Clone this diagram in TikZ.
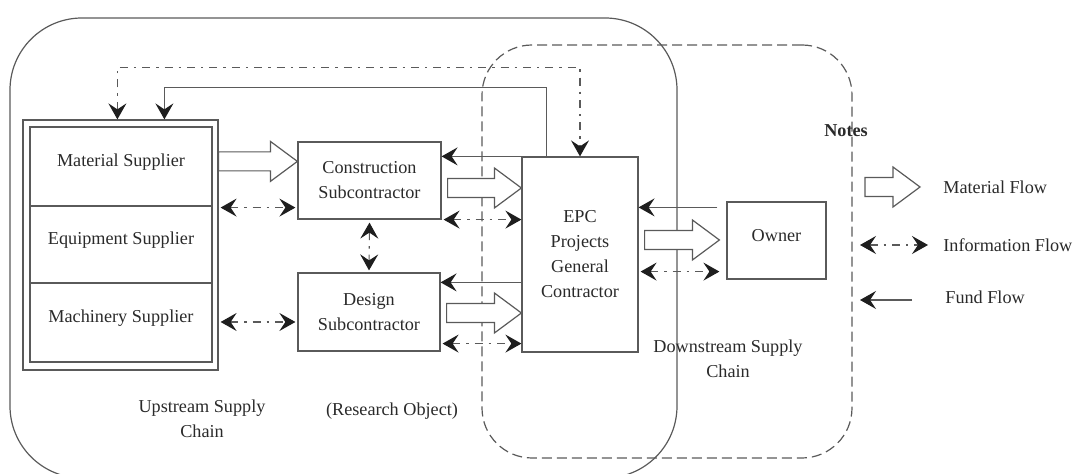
\documentclass[tikz,border=0pt]{standalone}
\usepackage{fontspec}
\setmainfont{Liberation Serif}
\usetikzlibrary{calc,arrows.meta}

\definecolor{linegray}{HTML}{5A5A5A}
\definecolor{headgray}{HTML}{1E1E1E}
\definecolor{textgray}{HTML}{2A2A2A}

% hollow block arrow for material flow: #1 tail point, #2 tip point (same height)
\newcommand\matarrow[2]{%
  \draw[matline] let \p1=(#1), \p2=(#2) in
    (\x1,\y1+4.75pt) -- (\x2-13.5pt,\y1+4.75pt) -- (\x2-13.5pt,\y1+10pt)
    -- (\x2,\y1) -- (\x2-13.5pt,\y1-10pt) -- (\x2-13.5pt,\y1-4.75pt)
    -- (\x1,\y1-4.75pt) -- cycle;}

\begin{document}
\begin{tikzpicture}[x=0.5pt,y=-0.5pt,
  >={Stealth[length=8pt,width=9pt,inset=3pt,color=headgray]},
  txt/.style={font=\fontsize{9.1}{12.5}\selectfont, text=textgray, align=center, inner sep=0pt},
  box/.style={draw=linegray, line width=0.6pt, inner sep=0pt, txt},
  matline/.style={draw=linegray, line width=0.6pt, fill=white},
  info/.style={draw=linegray, line width=0.55pt,
    dash pattern=on 4pt off 3pt on 1.2pt off 3pt, <->},
  fund/.style={draw=linegray, line width=0.6pt, ->},
]
\useasboundingbox (0,0) rectangle (1082,474);

% supply chain regions
\node[draw=linegray, line width=0.6pt, rounded corners=36pt, inner sep=0pt,
      minimum width=333.5pt, minimum height=230pt] (upchain) at (343.5,248) {};
\node[draw=linegray, line width=0.6pt, dash pattern=on 5pt off 2.5pt,
      rounded corners=25pt, inner sep=0pt,
      minimum width=185pt, minimum height=206.5pt] (downchain) at (667,251.5) {};

% suppliers (double frame with three sections)
\node[box, minimum width=97.5pt, minimum height=125pt] (sup) at (120.5,245) {};
\node[box, minimum width=91pt, minimum height=39.5pt] (mat)  at (121,166.5) {};
\node[box, minimum width=91pt, minimum height=38.5pt] (equ)  at (121,244.5) {};
\node[box, minimum width=91pt, minimum height=39.5pt] (mach) at (121,322.5) {};
\node[txt] (matT)  at ([yshift=2.2pt]mat.center)  {Material Supplier};
\node[txt] (equT)  at ([yshift=2.2pt]equ.center)  {Equipment Supplier};
\node[txt] (machT) at ([yshift=2.2pt]mach.center) {Machinery Supplier};

% main participants
\node[box, minimum width=71.5pt, minimum height=38.5pt] (cons) at (369.5,180.5) {Construction\\Subcontractor};
\node[box, minimum width=71pt, minimum height=39pt] (des) at (369,312) {Design\\Subcontractor};
\node[box, minimum width=58pt, minimum height=97.5pt] (epc) at (580,254.5) {EPC\\Projects\\General\\Contractor};
\node[box, minimum width=49.5pt, minimum height=38.5pt] (own) at (776.5,240.5) {};
\node[txt] (ownT) at ([yshift=2.7pt]own.center) {Owner};

% material flow
\coordinate (m1t) at ($(cons.north west)+(0,20)$);
\coordinate (m1s) at (sup.east |- m1t);
\matarrow{m1s}{m1t}
\coordinate (m2s) at ($(cons.east)+(6,7.5)$);
\coordinate (m2t) at (epc.west |- m2s);
\matarrow{m2s}{m2t}
\coordinate (m3s) at ($(des.east)+(6,1)$);
\coordinate (m3t) at (epc.west |- m3s);
\matarrow{m3s}{m3t}
\coordinate (m4s) at ($(epc.east)+(6,-14.5)$);
\coordinate (m4t) at ($(own.west |- m4s)+(-7,0)$);
\matarrow{m4s}{m4t}

% information flow
\draw[info] ($(sup.east |- cons.south)+(2,-12)$) -- ($(cons.south west)+(-2,-12)$);
\draw[info] ($(sup.east |- des.center)+(2,10)$) -- ($(des.west)+(-2,10)$);
\draw[info] ($(cons.south east)+(2,0)$) -- (cons.south -| epc.west);
\draw[info] ($(des.south east)+(2,-8)$) -- ($(epc.west |- des.south)+(0,-8)$);
\draw[info] ($(epc.east |- own.south)+(2,-8)$) -- ($(own.south west)+(-7,-8)$);
\draw[info] ($(cons.south)+(0,3)$) -- ($(des.north)+(0,-2)$);
\draw[info] ($(sup.north west)+(95,0)$) -- ++(0,-52) -| (epc.north);

% fund flow
\draw[fund] (epc.north west) -- (epc.north west -| cons.east);
\draw[fund] ($(epc.west |- des.north)+(0,10)$) -- ($(des.north east)+(0,10)$);
\draw[fund] ($(own.north west)+(-9,6)$) -- ($(epc.east |- own.north)+(0,6)$);
\draw[fund] ($(epc.north west)+(25,0)$) -- ++(0,-69) -| ($(sup.north west)+(142,0)$);

% chain labels
\node[txt] (upT)   at (202,419) {Upstream Supply\\Chain};
\node[txt] (resT)  at (392,411) {(Research Object)};
\node[txt] (downT) at (728,359) {Downstream Supply\\Chain};

% notes
\node[txt, font=\fontsize{9.1}{12.5}\selectfont\bfseries] (notes) at (846,131) {Notes};
\coordinate (lmA) at (865,187);
\coordinate (lmB) at (920,187);
\matarrow{lmA}{lmB}
\node[txt, anchor=west] (lmT) at (943,187) {Material Flow};
\coordinate (liA) at (860,245);
\coordinate (liB) at (928,245);
\draw[info] (liA) -- (liB);
\node[txt, anchor=west] (liT) at (943,245) {Information Flow};
\coordinate (lfA) at (912,300);
\coordinate (lfB) at (860,300);
\draw[fund] (lfA) -- (lfB);
\node[txt, anchor=west] (lfT) at (945,297) {Fund Flow};
\end{tikzpicture}
\end{document}
